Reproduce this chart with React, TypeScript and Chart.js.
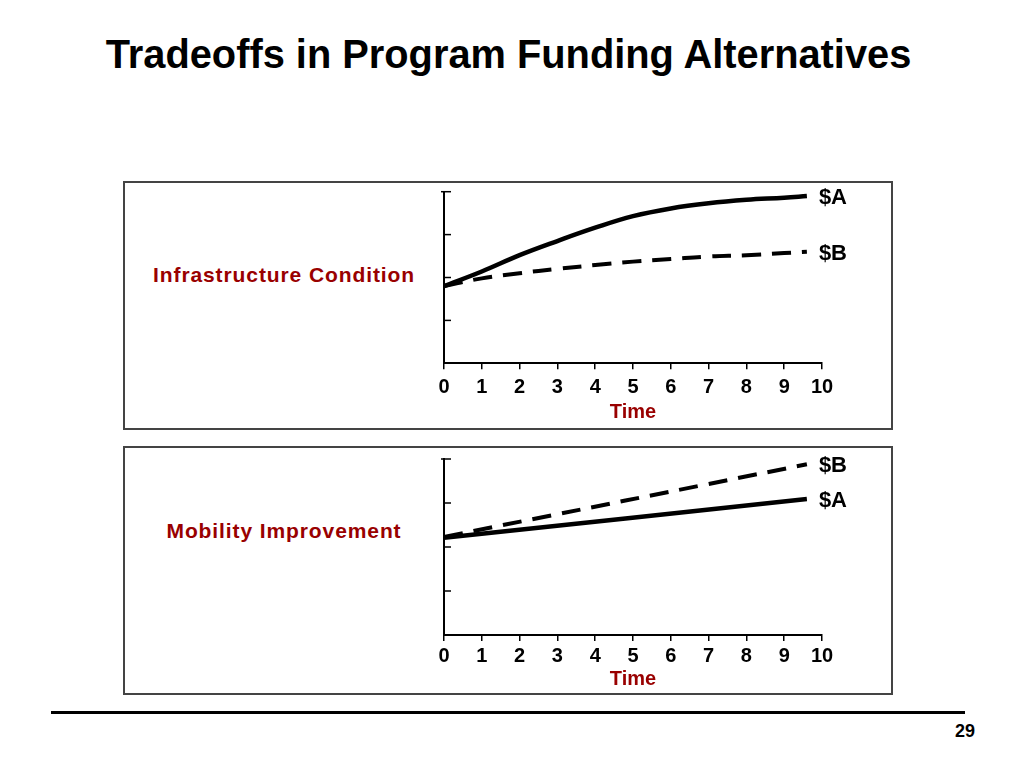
import React, { useEffect, useRef } from "react";
import { Chart, registerables } from "chart.js";

Chart.register(...registerables);

// ---------- data ----------
const TITLE = "Tradeoffs in Program Funding Alternatives";
const PAGE_NUMBER = "29";
const X_AXIS_LABEL = "Time";
const X_TICKS = [0, 1, 2, 3, 4, 5, 6, 7, 8, 9, 10];
const Y_TICKS = [0, 1, 2, 3, 4];
const SERIES_LABELS = ["$A", "$B"];
const PANEL_LABELS = ["Infrastructure Condition", "Mobility Improvement"];

const conditionTime = [0, 1, 2, 3, 4, 5, 6, 7, 8, 9, 9.6];
const conditionA = [1.8, 2.14, 2.52, 2.85, 3.16, 3.43, 3.61, 3.73, 3.81, 3.86, 3.9];
const conditionB = [1.8, 1.98, 2.1, 2.2, 2.29, 2.37, 2.43, 2.49, 2.52, 2.57, 2.6];

const mobilityTime = [0, 9.6];
const mobilityA = [2.21, 3.09];
const mobilityB = [2.23, 3.88];

const DARK_RED = "#990000";
const FONT = "'Liberation Sans', Arial, Helvetica, sans-serif";

type PanelProps = {
  canvasTop: number;
  chartTop: number;
  chartBottom: number;
  axisHeight: number;
  tickPad: number;
  titlePad: number;
  time: number[];
  a: number[];
  b: number[];
};

const CANVAS_LEFT = 404;
const CANVAS_WIDTH = 476;
const PAD_LEFT = 30;
const Y_AXIS_WIDTH = 10;
const PAD_RIGHT = 58;

const inwardTicks = {
  id: "inwardTicks",
  afterDraw(chart: any) {
    const ctx = chart.ctx;
    const ys = chart.scales.y;
    const x0 = chart.chartArea.left;
    ctx.save();
    ctx.strokeStyle = "#000";
    ctx.lineWidth = 1.5;
    Y_TICKS.forEach((v, i) => {
      const py = ys.getPixelForValue(v);
      if (i === 0) return;
      ctx.beginPath();
      ctx.moveTo(x0 - (i === Y_TICKS.length - 1 ? 3 : 0), py);
      ctx.lineTo(x0 + 7, py);
      ctx.stroke();
    });
    ctx.restore();
  },
};

const endLabels = {
  id: "endLabels",
  afterDatasetsDraw(chart: any) {
    const ctx = chart.ctx;
    ctx.save();
    ctx.fillStyle = "#000";
    ctx.font = `bold 22px ${FONT}`;
    ctx.textBaseline = "middle";
    ctx.textAlign = "left";
    chart.data.datasets.forEach((ds: any, i: number) => {
      const meta = chart.getDatasetMeta(i);
      const pt = meta.data[meta.data.length - 1];
      if (!pt) return;
      ctx.fillText(ds.label, pt.x + 12, pt.y + 2);
    });
    ctx.restore();
  },
};

function Panel(props: PanelProps) {
  const ref = useRef<HTMLCanvasElement>(null);
  const height = Math.round(props.chartBottom + props.axisHeight + 2 - props.canvasTop);
  useEffect(() => {
    const canvas = ref.current!;
    const padTop = props.chartTop - props.canvasTop;
    const padBottom = props.canvasTop + height - props.chartBottom - props.axisHeight;
    const chart = new Chart(canvas, {
      type: "line",
      data: {
        datasets: [
          {
            label: SERIES_LABELS[0],
            data: props.time.map((t, i) => ({ x: t, y: props.a[i] })),
            borderColor: "#000",
            borderWidth: 4.5,
            pointRadius: 0,
            tension: 0.4,
            fill: false,
            clip: false,
          },
          {
            label: SERIES_LABELS[1],
            data: props.time.map((t, i) => ({ x: t, y: props.b[i] })),
            borderColor: "#000",
            borderWidth: 4,
            borderDash: [19, 11],
            pointRadius: 0,
            tension: 0.4,
            fill: false,
            clip: false,
          },
        ],
      } as any,
      options: {
        responsive: false,
        animation: false,
        devicePixelRatio: 1,
        layout: { padding: { left: PAD_LEFT, right: PAD_RIGHT, top: padTop, bottom: padBottom } },
        plugins: { legend: { display: false }, tooltip: { enabled: false } },
        scales: {
          x: {
            type: "linear",
            min: 0,
            max: 10,
            afterFit: (s: any) => {
              s.height = props.axisHeight;
            },
            afterBuildTicks: (s: any) => {
              s.ticks = X_TICKS.map((v) => ({ value: v }));
            },
            ticks: {
              autoSkip: false,
              maxRotation: 0,
              padding: props.tickPad,
              color: "#000",
              font: { family: FONT, size: 20, weight: "bold" },
              callback: (v: any) => String(v),
            },
            grid: {
              display: true,
              drawOnChartArea: false,
              drawTicks: true,
              tickLength: 6,
              color: "#000",
              lineWidth: 1.5,
            },
            border: { display: true, color: "#000", width: 2 },
            title: {
              display: true,
              text: X_AXIS_LABEL,
              color: DARK_RED,
              font: { family: FONT, size: 20, weight: "bold" },
              padding: { top: 0, bottom: props.titlePad },
            },
          },
          y: {
            type: "linear",
            min: 0,
            max: 4,
            afterFit: (s: any) => {
              s.width = Y_AXIS_WIDTH;
            },
            afterBuildTicks: (s: any) => {
              s.ticks = Y_TICKS.map((v) => ({ value: v }));
            },
            ticks: { display: false },
            grid: { display: false, drawTicks: false },
            border: { display: true, color: "#000", width: 2 },
          },
        },
      } as any,
      plugins: [inwardTicks, endLabels],
    });
    return () => chart.destroy();
  }, []);
  return (
    <canvas
      ref={ref}
      width={CANVAS_WIDTH}
      height={height}
      style={{
        position: "absolute",
        left: CANVAS_LEFT,
        top: props.canvasTop,
        width: CANVAS_WIDTH,
        height,
      }}
    />
  );
}

const boxStyle = (top: number): React.CSSProperties => ({
  position: "absolute",
  left: 123,
  top,
  width: 770,
  height: 249,
  border: "2px solid #444",
  boxSizing: "border-box",
});

const sideLabel = (top: number): React.CSSProperties => ({
  position: "absolute",
  left: 124,
  width: 320,
  top,
  textAlign: "center",
  color: DARK_RED,
  fontFamily: FONT,
  fontWeight: "bold",
  fontSize: 21,
  letterSpacing: "0.9px",
  lineHeight: "21px",
  whiteSpace: "nowrap",
});

export default function App() {
  return (
    <div
      style={{
        position: "absolute",
        left: 0,
        top: 0,
        width: 1024,
        height: 768,
        background: "#fff",
        overflow: "hidden",
        fontFamily: FONT,
      }}
    >
      <div
        style={{
          position: "absolute",
          left: 0,
          width: 1017,
          top: 34,
          textAlign: "center",
          fontWeight: "bold",
          fontSize: 39.8,
          lineHeight: "40px",
          whiteSpace: "nowrap",
          color: "#000",
        }}
      >
        {TITLE}
      </div>

      <div style={boxStyle(181)} />
      <div style={boxStyle(446)} />

      <div style={sideLabel(264)}>{PANEL_LABELS[0]}</div>
      <div style={sideLabel(519.5)}>{PANEL_LABELS[1]}</div>

      <Panel
        canvasTop={184}
        chartTop={191.7}
        chartBottom={363.3}
        axisHeight={62}
        tickPad={6}
        titlePad={1}
        time={conditionTime}
        a={conditionA}
        b={conditionB}
      />
      <Panel
        canvasTop={450}
        chartTop={459}
        chartBottom={635}
        axisHeight={58}
        tickPad={3}
        titlePad={2}
        time={mobilityTime}
        a={mobilityA}
        b={mobilityB}
      />

      <div
        style={{
          position: "absolute",
          left: 51,
          top: 710.5,
          width: 914,
          height: 3,
          background: "#000",
        }}
      />
      <div
        style={{
          position: "absolute",
          left: 900,
          width: 75,
          top: 722,
          textAlign: "right",
          fontWeight: "bold",
          fontSize: 18,
          lineHeight: "18px",
          color: "#000",
        }}
      >
        {PAGE_NUMBER}
      </div>
    </div>
  );
}
